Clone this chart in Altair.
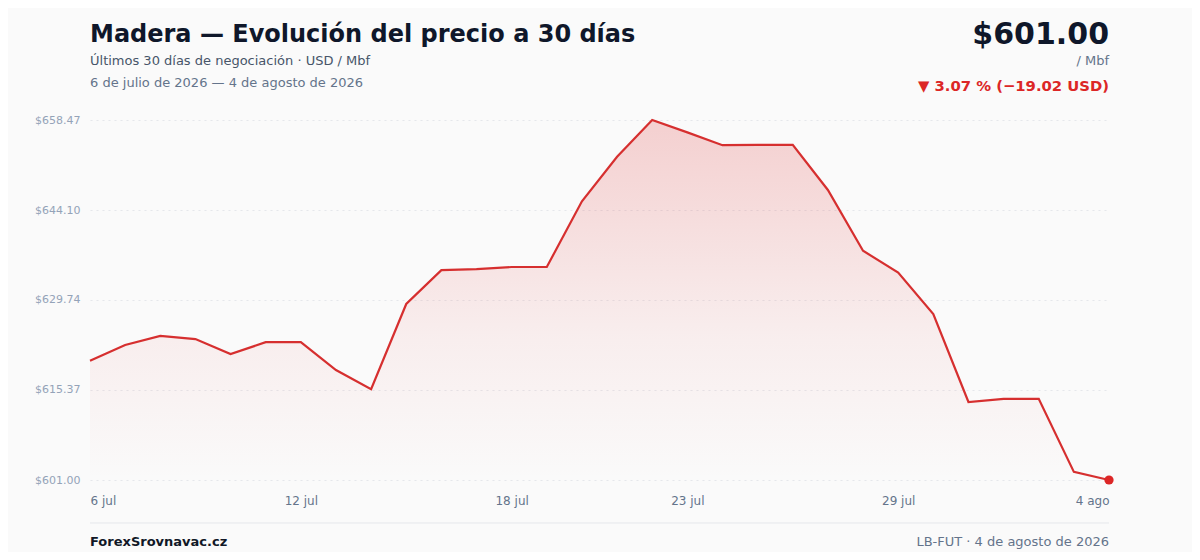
import altair as alt
import pandas as pd

# ---- data ----
days = ["6 jul", "7 jul", "8 jul", "9 jul", "10 jul", "11 jul", "12 jul", "13 jul", "14 jul", "15 jul",
        "16 jul", "17 jul", "18 jul", "19 jul", "20 jul", "21 jul", "22 jul", "23 jul", "24 jul", "25 jul",
        "26 jul", "27 jul", "28 jul", "29 jul", "30 jul", "31 jul", "1 ago", "2 ago", "3 ago", "4 ago"]
prices = [620.02, 622.55, 624.0, 623.5, 621.1, 623.0, 623.0, 618.55, 615.5, 629.1,
          634.5, 634.65, 635.0, 635.0, 645.5, 652.6, 658.47, 656.5, 654.45, 654.5,
          654.5, 647.3, 637.6, 634.1, 627.5, 613.45, 613.95, 613.95, 602.3, 601.00]
tick_idx = [0, 6, 12, 17, 23, 29]
tick_labels = ["6 jul", "12 jul", "18 jul", "23 jul", "29 jul", "4 ago"]
y_ticks = [601.00, 615.37, 629.74, 644.10, 658.47]

title = "Madera — Evolución del precio a 30 días"
subtitle = "Últimos 30 días de negociación · USD / Mbf"
date_range = "6 de julio de 2026 — 4 de agosto de 2026"
footer_left = "ForexSrovnavac.cz"
footer_right = "LB-FUT · 4 de agosto de 2026"
unit = "/ Mbf"

last = prices[-1]
first = prices[0]
diff = last - first
pct = abs(diff) / first * 100
price_text = f"${last:.2f}"
change_text = f"▼ {pct:.2f} % (−{abs(diff):.2f} USD)"

df = pd.DataFrame({"i": list(range(len(prices))), "day": days, "price": prices})

W, H = 1019, 360
FONT = "DejaVu Sans"
RED = "#d62f2f"

label_expr = ""
for k, lab in zip(tick_idx, tick_labels):
    label_expr += f"datum.value == {k} ? '{lab}' : "
label_expr += "''"

x_enc = alt.X("i:Q", scale=alt.Scale(domain=[0, len(prices) - 1], nice=False, zero=False),
              axis=alt.Axis(values=tick_idx, labelExpr=label_expr, title=None, grid=False,
                            domain=False, ticks=False, labelFlush=True, labelPadding=15,
                            labelFontSize=12, labelColor="#64748b", labelFont=FONT))
y_enc = alt.Y("price:Q", scale=alt.Scale(domain=[y_ticks[0], y_ticks[-1]], nice=False, zero=False),
              axis=alt.Axis(values=y_ticks, format="$.2f", title=None, domain=False, ticks=False,
                            labelPadding=10, labelFontSize=11, labelColor="#94a3b8", labelFont=FONT,
                            gridColor="#e5e7eb", gridDash=[2, 4], gridWidth=1))

base = alt.Chart(df)

area = base.mark_area(
    color=alt.Gradient(
        gradient="linear",
        stops=[alt.GradientStop(color="rgba(220,38,38,0.20)", offset=0),
               alt.GradientStop(color="rgba(220,38,38,0.06)", offset=0.6),
               alt.GradientStop(color="rgba(220,38,38,0.0)", offset=1)],
        x1=1, x2=1, y1=0, y2=1),
    line=False,
).encode(x=x_enc, y=y_enc, y2=alt.datum(y_ticks[0]))

line = base.mark_line(color=RED, strokeWidth=2.2).encode(x="i:Q", y="price:Q")

dot = alt.Chart(df.tail(1)).mark_circle(color="#dc2626", size=85, opacity=1).encode(x="i:Q", y="price:Q")


def txt(s, x, y, size, color, weight="normal", align="left"):
    return alt.Chart(pd.DataFrame({"t": [s]})).mark_text(
        font=FONT, fontSize=size, color=color, fontWeight=weight, align=align, baseline="alphabetic"
    ).encode(text="t:N", x=alt.value(x), y=alt.value(y))


texts = [
    txt(title, 0, -78, 24, "#0f172a", "bold"),
    txt(subtitle, 0, -55, 13, "#475569"),
    txt(date_range, 0, -33, 13, "#64748b"),
    txt(price_text, W, -76, 30, "#0f172a", "bold", "right"),
    txt(unit, W, -55, 13, "#64748b", "normal", "right"),
    txt(change_text, W, -29, 14.8, "#dc2626", "bold", "right"),
    txt(footer_left, 0, 426, 13, "#111827", "bold"),
    txt(footer_right, W, 426, 13, "#64748b", "normal", "right"),
]

footer_rule = alt.Chart(pd.DataFrame({"a": [0]})).mark_rule(color="#e5e7eb", strokeWidth=1).encode(
    x=alt.value(0), x2=alt.value(W), y=alt.value(403))

chart = alt.layer(area, line, dot, footer_rule, *texts).properties(
    width=W, height=H,
    autosize=alt.AutoSizeParams(type="none"),
    padding={"left": 82, "top": 112, "right": 83, "bottom": 72},
    background="#fafafa",
).configure_view(stroke=None)

chart.save("out.html", embed_options={"renderer": "svg", "actions": False})
